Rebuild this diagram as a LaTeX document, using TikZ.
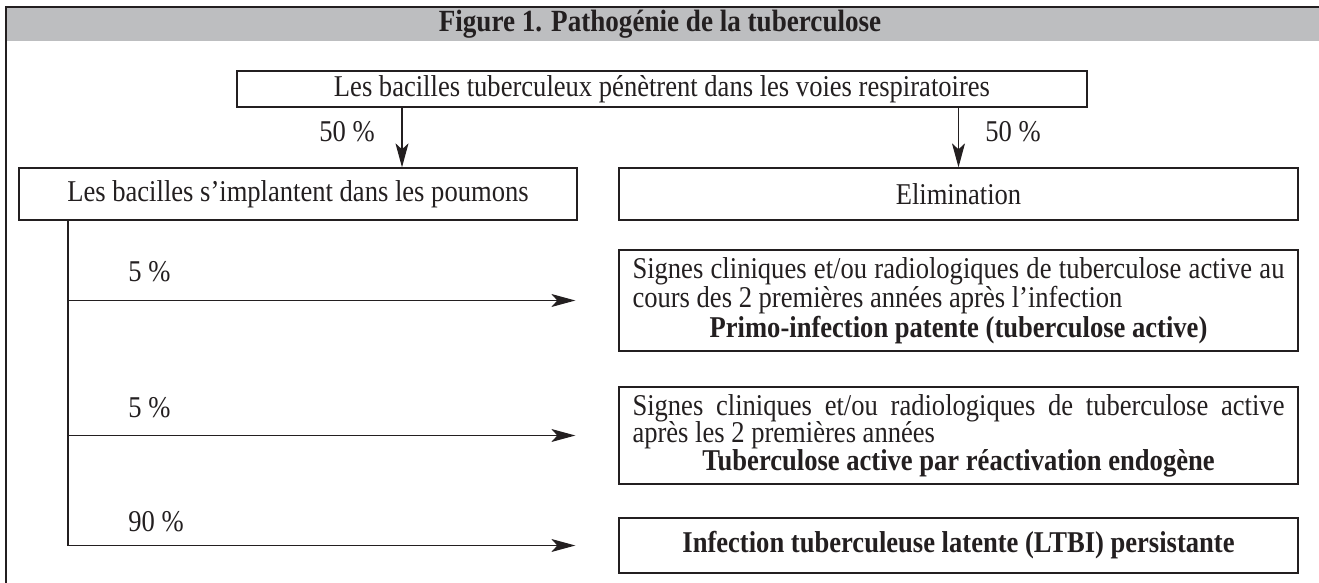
\documentclass[tikz,border=0pt]{standalone}
\usepackage{fontspec}
\setmainfont[FakeStretch=0.88]{Liberation Serif}
\usetikzlibrary{arrows.meta}
\definecolor{ink}{RGB}{35,31,32}
\definecolor{barfill}{RGB}{189,190,192}
\newcommand{\boxfont}{\fontsize{15.1}{13.8}\selectfont}
\tikzset{
  box/.style={draw=ink, line width=0.65pt, inner sep=0pt, text=ink, font=\boxfont},
  link/.style={draw=ink, line width=0.6pt, -{Stealth[length=12pt,width=6.5pt,inset=3pt]}},
  plain/.style={draw=ink, line width=0.6pt},
  pct/.style={font=\boxfont, text=ink, inner sep=0pt},
}
\begin{document}
\begin{tikzpicture}[x=0.5pt,y=-0.5pt]
\useasboundingbox (0,0) rectangle (1319,583);
\fill[barfill] (6,8) rectangle (1319,41);
\draw[ink, line width=1.2pt] (6,583) -- (6,7) -- (1319,7);
\node[font=\fontsize{15.4}{15}\selectfont\bfseries, text=ink, inner sep=0pt] (title) at (660,24.5) {Figure 1. Pathogénie de la tuberculose};

\node[box, minimum width=425pt, minimum height=18pt] (enter) at (662,89) {Les bacilles tuberculeux pénètrent dans les voies respiratoires};
\node[box, minimum width=279pt, minimum height=26pt] (implant) at (298,194) {Les bacilles s’implantent dans les poumons};
\node[box, minimum width=339.5pt, minimum height=26pt] (elim) at (958.5,194) {Elimination};
\node[box, minimum width=339.5pt, minimum height=50.5pt, text width=326pt, align=justify] (primo) at (958.5,300.5)
  {Signes cliniques et/ou radiologiques de tuberculose active au\linebreak cours des 2 premières années après l’infection\par
   \centerline{\bfseries Primo-infection patente (tuberculose active)}};
\node[box, minimum width=339.5pt, minimum height=48.5pt, text width=326pt, align=justify] (react) at (958.5,435.5)
  {Signes cliniques et/ou radiologiques de tuberculose active\linebreak après les 2 premières années\par
   \centerline{\bfseries Tuberculose active par réactivation endogène}};
\node[box, minimum width=339.5pt, minimum height=27.5pt, font=\boxfont\bfseries] (latent) at (958.5,545.5)
  {Infection tuberculeuse latente (LTBI) persistante};

\coordinate (leftdrop) at (402,0);
\coordinate (trunk) at (68,0);
\draw[link] (enter.south -| leftdrop) -- (implant.north -| leftdrop);
\draw[link] (enter.south -| elim.north) -- (elim.north);
\draw[plain] (implant.south -| trunk) -- (trunk |- latent.west);
\draw[link] (trunk |- primo.west) -- ([xshift=-21.5pt]primo.west);
\draw[link] (trunk |- react.west) -- ([xshift=-21.5pt]react.west);
\draw[link] (trunk |- latent.west) -- ([xshift=-21.5pt]latent.west);

\node[pct] (p50l) at (347,132) {50~\%};
\node[pct] (p50r) at (1013,132) {50~\%};
\node[pct, anchor=west] (p5a) at (128,272) {5~\%};
\node[pct, anchor=west] (p5b) at (128,408) {5~\%};
\node[pct, anchor=west] (p90) at (128,522) {90~\%};
\end{tikzpicture}
\end{document}
